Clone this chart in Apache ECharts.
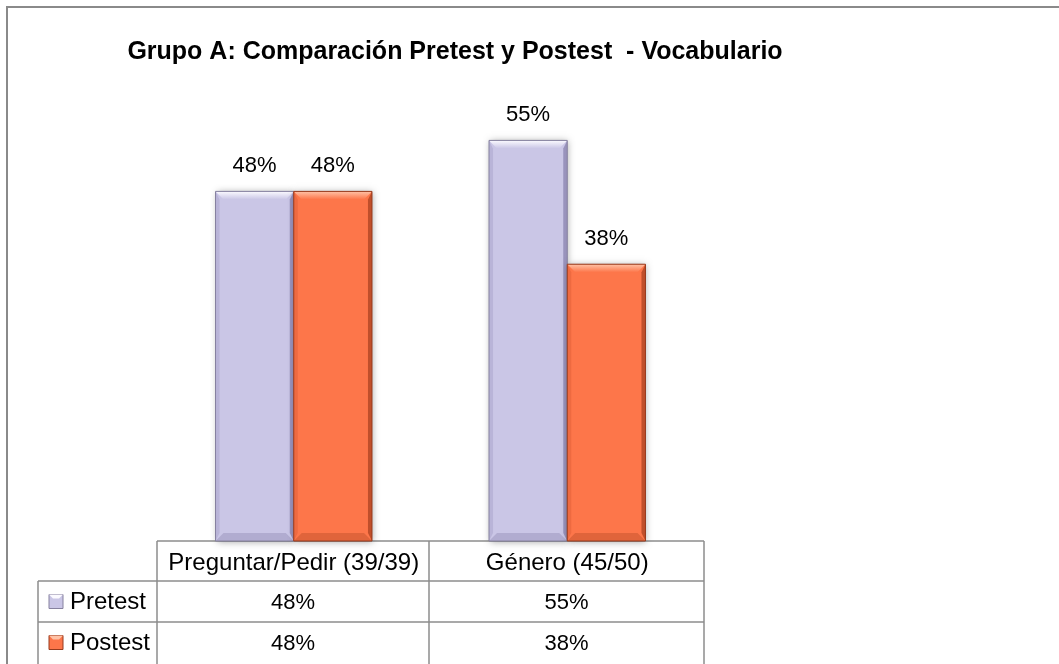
<!DOCTYPE html>
<html>
<head>
<meta charset="utf-8">
<script src="https://cdn.jsdelivr.net/npm/echarts@6/dist/echarts.min.js"></script>
<style>
  html, body { margin: 0; padding: 0; background: #fff; }
  #chart { width: 1059px; height: 664px; }
</style>
</head>
<body>
<div id="chart"></div>
<script>
var chartTitle = 'Grupo A: Comparación Pretest y Postest  - Vocabulario';
var categories = ['Preguntar/Pedir (39/39)', 'Género (45/50)'];
var seriesNames = ['Pretest', 'Postest'];
var pretestValues = [48, 55];
var postestValues = [48, 38];

var FONT = '"Liberation Sans", Arial, sans-serif';

// bevel colours per series
var palettes = [
  { base: '#cac6e6', top: '#fbfaff', left: '#b9b4d8', right: '#9993bc', bottom: '#b1acd0', line: '#86819f' },
  { base: '#fd764a', top: '#ffc2a6', left: '#ee6a40', right: '#c04f2b', bottom: '#e0643b', line: '#973b1e' }
];

var myChart = echarts.init(document.getElementById('chart'));

var barRatio = 0.286;

function makeRender(idx) {
  var p = palettes[idx];
  return function (params, api) {
    var cat = api.value(0);
    var val = api.value(1);
    var p0 = api.coord([cat, 0]);
    var p1 = api.coord([cat, val]);
    var band = api.size([1, 0])[0];
    var w = band * barRatio;
    var x = p0[0] - w + idx * w;
    var y = p1[1];
    var h = p0[1] - p1[1];
    var b = 8;
    return {
      type: 'group',
      children: [
        { type: 'rect', shape: { x: x, y: y, width: w, height: h },
          style: { fill: p.base, shadowBlur: 7, shadowColor: 'rgba(0,0,0,0.35)', shadowOffsetX: 1, shadowOffsetY: 1 } },
        { type: 'polygon', shape: { points: [[x, y], [x + w, y], [x + w - b, y + b], [x + b, y + b]] },
          style: { fill: new echarts.graphic.LinearGradient(0, 0, 0, 1, [
            { offset: 0, color: p.top }, { offset: 1, color: p.base }]) } },
        { type: 'polygon', shape: { points: [[x, y], [x + b * 0.5, y + b], [x + b * 0.5, y + h - b], [x, y + h]] },
          style: { fill: p.left } },
        { type: 'polygon', shape: { points: [[x + w, y], [x + w - b * 0.5, y + b], [x + w - b * 0.5, y + h - b], [x + w, y + h]] },
          style: { fill: p.right } },
        { type: 'polygon', shape: { points: [[x, y + h], [x + w, y + h], [x + w - b, y + h - b], [x + b, y + h - b]] },
          style: { fill: p.bottom } },
        { type: 'rect', shape: { x: x, y: y, width: w, height: h },
          style: { fill: null, stroke: p.line, lineWidth: 1 } },
        { type: 'text', style: { text: val + '%', x: x + w / 2, y: y - 14,
          align: 'center', verticalAlign: 'bottom', font: '22px ' + FONT, fill: '#000' } }
      ]
    };
  };
}

// data table layout
var tblLeft = 38, tblPlotLeft = 157, tblMid = 429, tblRight = 704;
var rowY = [541, 581, 622, 663];
var lineColor = '#8c8c8c';
var allValues = [pretestValues, postestValues];

var graphics = [
  { type: 'rect', shape: { x: 7, y: 7, width: 1120, height: 720 },
    style: { fill: null, stroke: '#8a8a8a', lineWidth: 2 }, silent: true }
];
function hline(x1, x2, y) {
  graphics.push({ type: 'line', shape: { x1: x1, y1: y, x2: x2, y2: y }, style: { stroke: lineColor, lineWidth: 1.5 } });
}
function vline(x, y1, y2) {
  graphics.push({ type: 'line', shape: { x1: x, y1: y1, x2: x, y2: y2 }, style: { stroke: lineColor, lineWidth: 1.5 } });
}
hline(tblPlotLeft, tblRight, rowY[0]);
hline(tblLeft, tblRight, rowY[1]);
hline(tblLeft, tblRight, rowY[2]);
vline(tblLeft, rowY[1], rowY[3] + 2);
vline(tblPlotLeft, rowY[0], rowY[3] + 2);
vline(tblMid, rowY[0], rowY[3] + 2);
vline(tblRight, rowY[0], rowY[3] + 2);

var colCenters = [(tblPlotLeft + tblMid) / 2, (tblMid + tblRight) / 2];
seriesNames.forEach(function (name, i) {
  var cy = (rowY[i + 1] + rowY[i + 2]) / 2;
  var p = palettes[i];
  var ix = 49, s = 14;
  graphics.push({ type: 'rect', shape: { x: ix, y: cy - s / 2, width: s, height: s },
    style: { fill: p.base, stroke: p.line, lineWidth: 1 } });
  graphics.push({ type: 'polygon', shape: { points: [[ix, cy - s / 2], [ix + s, cy - s / 2], [ix + s - 4, cy - s / 2 + 4], [ix + 4, cy - s / 2 + 4]] },
    style: { fill: p.top } });
  graphics.push({ type: 'text', style: { text: name, x: 70, y: cy + 1, verticalAlign: 'middle',
    font: '24px ' + FONT, fill: '#000' } });
  allValues[i].forEach(function (v, j) {
    graphics.push({ type: 'text', style: { text: v + '%', x: colCenters[j], y: cy + 1,
      align: 'center', verticalAlign: 'middle', font: '22px ' + FONT, fill: '#000' } });
  });
});

var option = {
  backgroundColor: '#fff',
  animation: false,
  title: {
    text: chartTitle,
    left: 450,
    textAlign: 'center',
    top: 35,
    textStyle: { fontFamily: FONT, fontSize: 25, fontWeight: 'bold', color: '#000' }
  },
  grid: { left: tblPlotLeft, right: 1059 - tblRight, top: 104, bottom: 664 - rowY[0] },
  xAxis: {
    type: 'category',
    data: categories,
    axisLine: { show: false },
    axisTick: { show: false },
    axisLabel: { interval: 0, fontFamily: FONT, fontSize: 24, color: '#000', margin: 10 }
  },
  yAxis: { type: 'value', min: 0, max: 60, show: false },
  series: [
    { name: seriesNames[0], type: 'custom', renderItem: makeRender(0), encode: { x: 0, y: 1 },
      data: pretestValues.map(function (v, i) { return [i, v]; }) },
    { name: seriesNames[1], type: 'custom', renderItem: makeRender(1), encode: { x: 0, y: 1 },
      data: postestValues.map(function (v, i) { return [i, v]; }) }
  ],
  graphic: graphics
};

myChart.setOption(option);
</script>
</body>
</html>
